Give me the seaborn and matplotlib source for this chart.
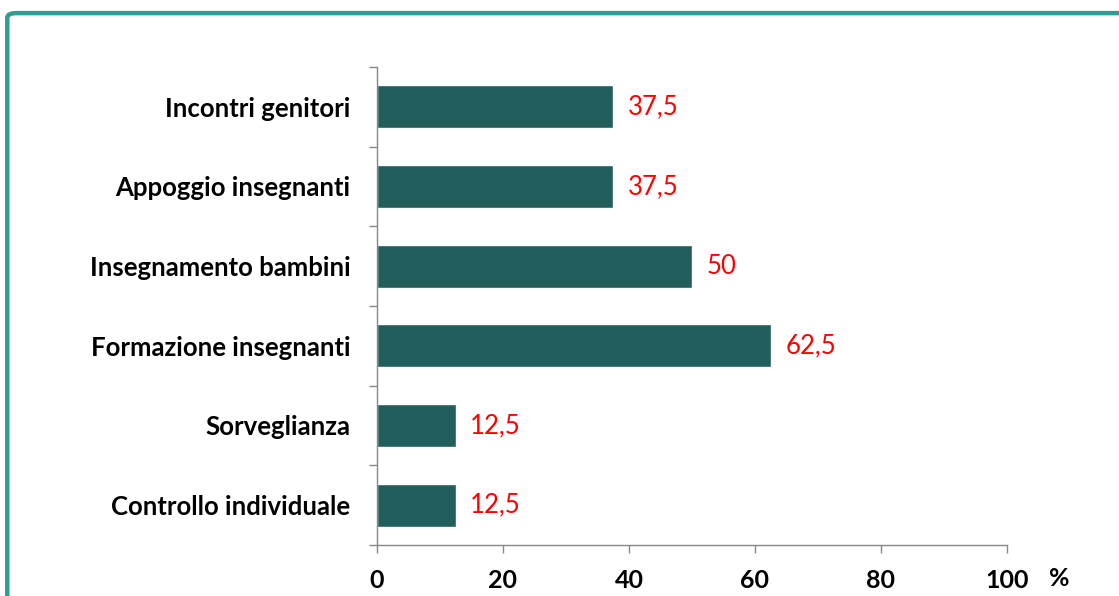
import matplotlib
matplotlib.use("Agg")
import matplotlib.pyplot as plt
import seaborn as sns
import pandas as pd
from matplotlib.patches import FancyBboxPatch
from matplotlib.ticker import FixedLocator

categories = ["Incontri genitori", "Appoggio insegnanti", "Insegnamento bambini",
              "Formazione insegnanti", "Sorveglianza", "Controllo individuale"]
values = [37.5, 37.5, 50, 62.5, 12.5, 12.5]
value_labels = ["37,5", "37,5", "50", "62,5", "12,5", "12,5"]
x_ticks = [0, 20, 40, 60, 80, 100]

sns.set_theme(style="white")
plt.rcParams['font.family'] = ['Lato', 'DejaVu Sans']

df = pd.DataFrame({"cat": categories, "val": values})

fig = plt.figure(figsize=(11.19, 5.96), dpi=100)
ax = fig.add_axes([0.3369, 0.0856, 0.563, 0.802])

sns.barplot(data=df, x="val", y="cat", order=categories, color="#215E5C",
            width=0.54, saturation=1, ax=ax)

ax.set_xlim(0, 100)
ax.set_ylim(len(categories) - 0.5, -0.5)
ax.set_xlabel("")
ax.set_ylabel("")
ax.set_xticks(x_ticks)
ax.set_xticklabels([str(t) for t in x_ticks], fontsize=18, fontweight="bold")
ax.tick_params(axis="x", length=6, width=1, color="#888888", pad=11, direction="out", bottom=True)
ax.yaxis.set_minor_locator(FixedLocator([i - 0.5 for i in range(len(categories) + 1)]))
ax.tick_params(axis="y", which="major", length=0, pad=19, labelsize=18.5)
ax.tick_params(axis="y", which="minor", length=6, width=1, color="#888888", direction="out", left=True)
for lbl in ax.get_yticklabels():
    lbl.set_fontweight("bold")
    lbl.set_color("black")
for lbl in ax.get_xticklabels():
    lbl.set_color("black")

for s in ["top", "right"]:
    ax.spines[s].set_visible(False)
for s in ["left", "bottom"]:
    ax.spines[s].set_color("#888888")
    ax.spines[s].set_linewidth(1)

for i, (v, t) in enumerate(zip(values, value_labels)):
    ax.text(v + 2.3, i, t, color="red", fontsize=18.5, va="center", ha="left")

fig.text(0.947, 0.030, "%", fontsize=18, fontweight="bold", ha="center", va="center", color="black")

frame = FancyBboxPatch((0.0065, -0.1), 1.2, 1.078, boxstyle="round,pad=0,rounding_size=0.008",
                       transform=fig.transFigure, fill=False, edgecolor="#339B95", linewidth=3.2,
                       clip_on=False)
fig.patches.append(frame)

fig.savefig("out.png", dpi=100)
